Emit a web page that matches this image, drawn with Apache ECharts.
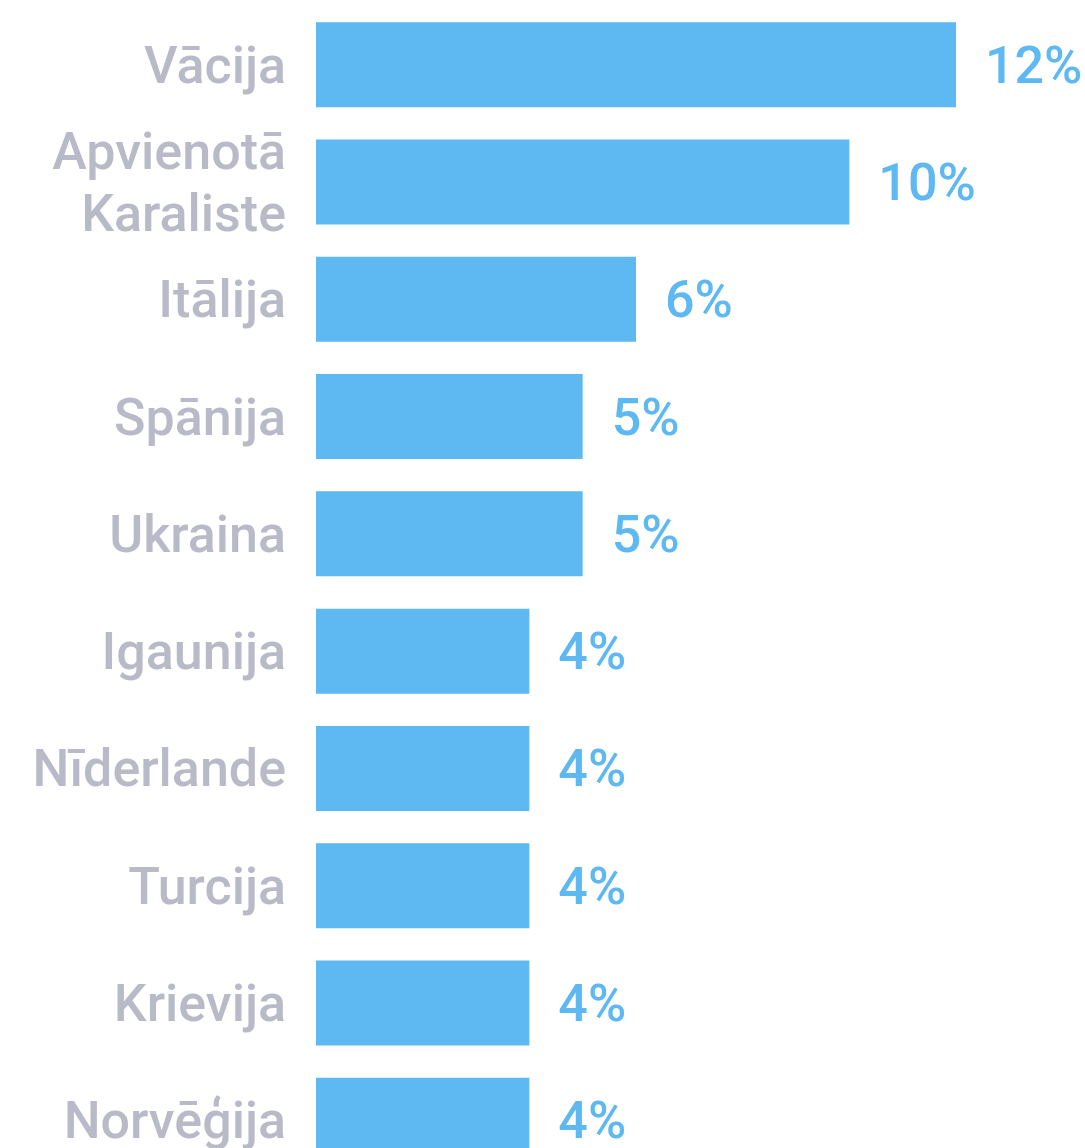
<!DOCTYPE html>
<html>
<head>
<meta charset="utf-8">
<script src="https://cdn.jsdelivr.net/npm/echarts@6/dist/echarts.min.js"></script>
<style>
  html, body { margin: 0; padding: 0; background: #fff; }
  #chart { width: 1085px; height: 1148px; }
</style>
</head>
<body>
<div id="chart"></div>
<script>
  // valstis un to daļa (%)
  const countries = ['Vācija', 'Apvienotā\nKaraliste', 'Itālija', 'Spānija', 'Ukraina',
    'Igaunija', 'Nīderlande', 'Turcija', 'Krievija', 'Norvēģija'];
  const shares = [12, 10, 6, 5, 5, 4, 4, 4, 4, 4];

  const chart = echarts.init(document.getElementById('chart'));
  chart.setOption({
    backgroundColor: '#fff',
    animation: false,
    grid: { left: 316, top: 6, width: 640, height: 1173, outerBoundsMode: 'none', containLabel: false },
    xAxis: {
      type: 'value',
      min: 0,
      max: 12,
      show: false
    },
    yAxis: {
      type: 'category',
      data: countries,
      inverse: true,
      axisLine: { show: false },
      axisTick: { show: false },
      axisLabel: {
        margin: 30,
        align: 'right',
        // push text a bit down so it sits centred on the bar
        formatter: (v) => v.split('\n').map((s) => '{t|' + s + '}').join('\n'),
        rich: {
          t: {
            color: '#b9bac8',
            fontFamily: 'Roboto',
            fontWeight: 500,
            fontSize: 52,
            lineHeight: 62,
            padding: [10, 0, 0, 0]
          }
        }
      }
    },
    series: [
      {
        type: 'bar',
        data: shares,
        barWidth: 85,
        itemStyle: { color: '#5eb8f1' },
        label: {
          show: true,
          position: 'right',
          distance: 29,
          offset: [0, 5],
          formatter: '{c}%',
          color: '#5eb8f1',
          fontFamily: 'Roboto',
          fontWeight: 500,
          fontSize: 52
        }
      }
    ]
  });
</script>
</body>
</html>
